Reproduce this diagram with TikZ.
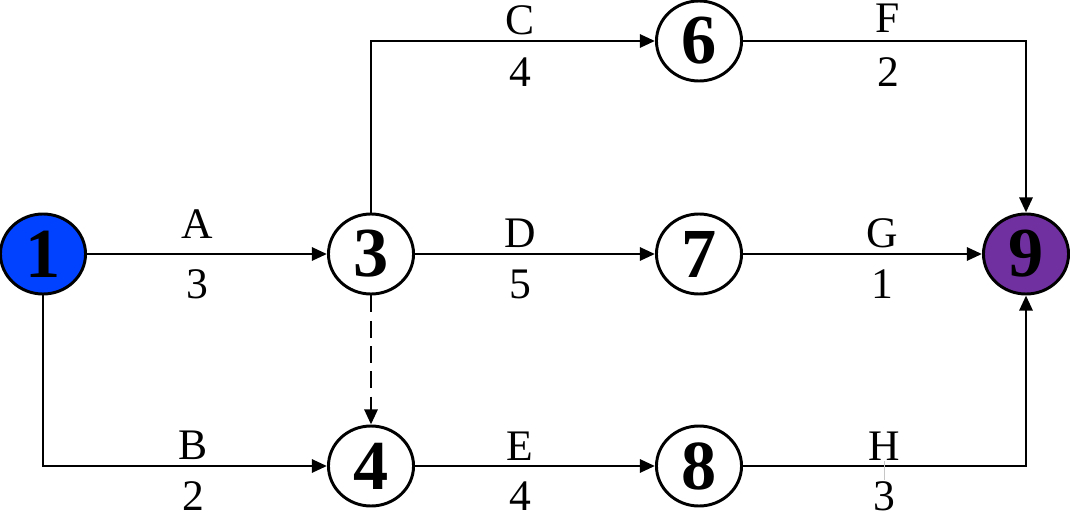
\documentclass[tikz,border=0pt]{standalone}
\usepackage{fontspec}
\setmainfont{Liberation Serif}
\usetikzlibrary{arrows.meta,shapes.geometric}
\definecolor{startblue}{RGB}{0,66,255}
\definecolor{endpurple}{RGB}{112,48,160}
\begin{document}
\begin{tikzpicture}[x=0.025cm, y=-0.025cm, line width=2.1pt, line join=miter,
    event/.style={draw, ellipse, fill=white, minimum width=60.5pt, minimum height=56.9pt, inner sep=0pt, font=\fontsize{50}{60}\selectfont\bfseries},
    arr/.style={-{Triangle[length=10.7pt, width=9.2pt]}},
    lbl/.style={anchor=base, inner sep=0pt, font=\fontsize{31}{37}\selectfont}]
        \useasboundingbox (0,0) rectangle (1070,512);
        \node[event, fill=startblue] (n1) at (43, 254) {1};
        \node[event] (n3) at (371, 254) {3};
        \node[event] (n6) at (699, 41) {6};
        \node[event] (n7) at (699, 254) {7};
        \node[event, fill=endpurple] (n9) at (1026, 254) {9};
        \node[event] (n4) at (371, 466) {4};
        \node[event] (n8) at (699, 466) {8};
        \draw[arr] (n1) -- (n3);
        \draw[arr] (n1.south) |- (n4.west);
        \draw[arr] (n3.north) |- (n6.west);
        \draw[arr] (n3) -- (n7);
        \draw[arr, dash pattern=on 12pt off 6pt] (n3) -- (n4);
        \draw[arr] (n4) -- (n8);
        \draw[arr] (n6.east) -| (n9.north);
        \draw[arr] (n7) -- (n9);
        \draw[arr] (n8.east) -| (n9.south);
        \node[lbl] (lA) at (197, 238) {A};
        \node[lbl] (wA) at (197, 298) {3};
        \node[lbl] (lB) at (193, 459) {B};
        \node[lbl] (wB) at (193, 510) {2};
        \node[lbl] (lC) at (520, 35) {C};
        \node[lbl] (wC) at (520, 86) {4};
        \node[lbl] (lD) at (520, 247) {D};
        \node[lbl] (wD) at (520, 298) {5};
        \node[lbl] (lE) at (520, 460) {E};
        \node[lbl] (wE) at (520, 510) {4};
        \node[lbl] (lF) at (888, 33) {F};
        \node[lbl] (wF) at (888, 86) {2};
        \node[lbl] (lG) at (882, 247) {G};
        \node[lbl] (wG) at (882, 298) {1};
        \node[lbl] (lH) at (884, 460) {H};
        \node[lbl] (wH) at (884, 510) {3};
        \draw[gray!45, line width=0.7pt] (lH.south) -- (wH.north);
\end{tikzpicture}
\end{document}
